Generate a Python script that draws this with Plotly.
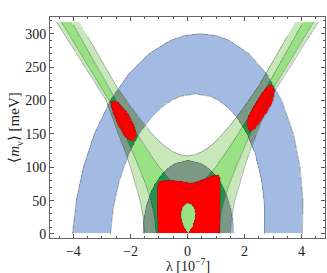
import numpy as np
import plotly.graph_objects as go

# ---------------- data ----------------
BLUE_OUT_Y = [0, 50, 100, 150, 200, 240, 270, 290, 297, 300]
BLUE_OUT_XL = [-4.03, -3.899, -3.65, -3.265, -2.704, -2.058, -1.351, -0.596, -0.122, 0.45]
BLUE_OUT_XR = [4.03, 4.049, 3.95, 3.715, 3.304, 2.778, 2.161, 1.466, 1.013, 0.45]
BLUE_IN_Y = [0, 40, 80, 120, 150, 175, 190, 200, 206, 210]
BLUE_IN_XL = [-2.70, -2.598, -2.389, -2.056, -1.690, -1.259, -0.897, -0.556, -0.250, 0.28]
BLUE_IN_XR = [2.70, 2.704, 2.603, 2.376, 2.090, 1.726, 1.403, 1.090, 0.799, 0.28]

CEN_Y = [0, 20, 40, 60, 75, 90, 100, 106, 110]
CEN_HALF_W = [1.59, 1.563, 1.481, 1.333, 1.163, 0.914, 0.662, 0.425, 0.0]
CEN_X0 = 0.03
HOLE_X = [0.03, 0.10, 0.20, 0.27, 0.29, 0.25, 0.15, 0.03, -0.09, -0.19, -0.23, -0.21, -0.14, -0.05]
HOLE_Y = [0, 5, 12, 22, 30, 38, 44, 46, 44, 38, 30, 22, 12, 5]

G_X = [0, 0.25, 0.5, 0.75, 1.0, 1.25, 1.5, 2.0, 2.5, 3.0, 3.5, 4.0, 4.5, 5.0]
LIGHT_UPPER_Y = [117.0, 118.5, 122.9, 130.0, 139.2, 150.3, 162.8, 191.0, 222.1, 259.0, 296.0, 333.0, 370.0, 407.0]
MED_UPPER_Y = [67.1, 69.7, 77.0, 87.8, 101.0, 115.8, 131.6, 165.2, 200.3, 237.0, 275.0, 313.0, 351.0, 389.0]
G_Y = [0, 25, 50, 75, 100, 125, 150, 200, 250, 300, 350]
LIGHT_OUTER_X = [1.50, 1.55, 1.66, 1.82, 2.00, 2.20, 2.43, 2.85, 3.58, 4.33, 5.08]
MED_OUTER_X = [1.10, 1.15, 1.28, 1.47, 1.70, 1.95, 2.20, 2.75, 3.45, 4.17, 4.88]
G_TOP = 318

RED_C_X = [-1.04, -1.06, -1.06, -1.02, -0.9, -0.5, -0.1, 0.15, 0.4, 0.7, 0.95, 1.08, 1.15, 1.16, 1.14, 1.13]
RED_C_Y = [0, 40, 70, 77, 79.5, 80, 78, 76, 79, 84, 88, 88, 84, 60, 20, 0]
RED_L_X = [-2.66, -2.43, -2.08, -1.84, -1.78, -1.9, -2.19, -2.43, -2.6, -2.68]
RED_L_Y = [199, 197.5, 180, 160, 147.5, 137.5, 145, 162.5, 180, 192]
RED_R_X = [2.95, 3.07, 3.01, 2.84, 2.6, 2.37, 2.19, 2.08, 2.13, 2.31, 2.6, 2.78]
RED_R_Y = [224, 215, 200, 185, 170, 157.5, 152.5, 162.5, 175, 190, 210, 220]

X_TICKS = [-4, -2, 0, 2, 4]
Y_TICKS = [0, 50, 100, 150, 200, 250, 300]

# ---------------- geometry helpers ----------------
def inside(px, py, X, Y):
    px = np.asarray(px, float); py = np.asarray(py, float)
    res = np.zeros(X.shape, bool)
    j = len(px) - 1
    with np.errstate(divide="ignore", invalid="ignore"):
        for i in range(len(px)):
            xi, yi, xj, yj = px[i], py[i], px[j], py[j]
            if yi != yj:
                c = ((yi > Y) != (yj > Y)) & (X < (xj - xi) * (Y - yi) / (yj - yi) + xi)
                res ^= c
            j = i
    return res

blue_px = BLUE_OUT_XL + BLUE_OUT_XR[::-1][1:] + BLUE_IN_XR + BLUE_IN_XL[::-1][1:]
blue_py = BLUE_OUT_Y + BLUE_OUT_Y[::-1][1:] + BLUE_IN_Y + BLUE_IN_Y[::-1][1:]
cen_px = [CEN_X0 - w for w in CEN_HALF_W] + [CEN_X0 + w for w in CEN_HALF_W[::-1][1:]]
cen_py = CEN_Y + CEN_Y[::-1][1:]

xr = [-4.82, 4.82]
yr = [-6, 325]
gx = np.linspace(xr[0], xr[1], 620)
gy = np.linspace(yr[0], yr[1], 500)
X, Y = np.meshgrid(gx, gy)
AX = np.abs(X)
valid = (Y >= 0)

blue = (inside(blue_px, blue_py, X, Y) | (inside(cen_px, cen_py, X, Y) & ~inside(HOLE_X, HOLE_Y, X, Y))) & valid
light = (Y <= np.interp(AX, G_X, LIGHT_UPPER_Y)) & (AX <= np.interp(Y, G_Y, LIGHT_OUTER_X)) & valid & (Y <= G_TOP)
med = (Y <= np.interp(AX, G_X, MED_UPPER_Y)) & (AX <= np.interp(Y, G_Y, MED_OUTER_X)) & valid & (Y <= G_TOP)
red = (inside(RED_C_X, RED_C_Y, X, Y) & ~inside(HOLE_X, HOLE_Y, X, Y)) | inside(RED_L_X, RED_L_Y, X, Y) | inside(RED_R_X, RED_R_Y, X, Y)
red &= valid

Z = np.zeros(X.shape)
Z[blue] = 1
Z[light & ~blue] = 2
Z[med & ~blue] = 3
Z[light & blue] = 4
Z[med & blue] = 5
Z[red] = 6

cols = ["#ffffff", "#a3bbe3", "#c9e8b9", "#99e284", "#7b9985", "#23924a", "#ff0000"]
cs = []
for k, c in enumerate(cols):
    cs.append([k / 7, c]); cs.append([(k + 1) / 7, c])

fig = go.Figure()
fig.add_trace(go.Heatmap(x=gx, y=gy, z=Z, zmin=-0.5, zmax=6.5, colorscale=cs, showscale=False,
                         hoverinfo="skip", zsmooth=False))

LINE = dict(color="rgba(45,55,65,0.6)", width=0.6)
def outline(xs, ys, closed=True):
    xs = list(xs); ys = list(ys)
    if closed:
        xs = xs + xs[:1]; ys = ys + ys[:1]
    fig.add_trace(go.Scatter(x=xs, y=ys, mode="lines", line=LINE, hoverinfo="skip", showlegend=False))

outline(BLUE_OUT_XL + BLUE_OUT_XR[::-1][1:], BLUE_OUT_Y + BLUE_OUT_Y[::-1][1:], closed=False)
outline(BLUE_IN_XL + BLUE_IN_XR[::-1][1:], BLUE_IN_Y + BLUE_IN_Y[::-1][1:], closed=False)
outline(cen_px, cen_py, closed=False)
outline(HOLE_X, HOLE_Y)
outline(RED_C_X, RED_C_Y, closed=False)
outline(RED_L_X, RED_L_Y)
outline(RED_R_X, RED_R_Y)

for upper in (LIGHT_UPPER_Y, MED_UPPER_Y):
    xs = [-v for v in G_X[::-1]] + G_X[1:]
    ys = upper[::-1] + upper[1:]
    xs2 = [x if y <= G_TOP else None for x, y in zip(xs, ys)]
    ys2 = [y if y <= G_TOP else None for y in ys]
    outline(xs2, ys2, closed=False)
for outer in (LIGHT_OUTER_X, MED_OUTER_X):
    yy = [y for y in G_Y if y <= G_TOP] + [G_TOP]
    xx = list(np.interp(yy, G_Y, outer))
    outline([-v for v in xx], yy, closed=False)
    outline(xx, yy, closed=False)

FONT = dict(family="Liberation Serif, Times New Roman, serif", size=14, color="#222")
fig.update_layout(
    width=327, height=273, margin=dict(l=50, r=2, t=17, b=35),
    plot_bgcolor="white", paper_bgcolor="white",
    font=FONT, showlegend=False,
)
fig.add_annotation(text="\u03bb [10<sup>\u22127</sup>]", xref="paper", yref="paper", x=0.5, y=-0.072,
                   xanchor="center", yanchor="top", showarrow=False,
                   font=dict(family=FONT["family"], size=14, color="#222"))
fig.update_xaxes(range=xr, tickvals=X_TICKS, ticktext=["\u22124", "\u22122", "0", "2", "4"],
                 ticks="inside", ticklen=4, tickcolor="#555", showline=True, linecolor="#666", linewidth=1,
                 mirror="allticks", showgrid=False, zeroline=False,
                 minor=dict(dtick=0.5, tick0=0, ticks="inside", ticklen=2, tickcolor="#555"))
fig.update_yaxes(range=yr, tickvals=Y_TICKS, ticks="inside", ticklen=4, tickcolor="#555",
                 showline=True, linecolor="#666", linewidth=1, mirror="allticks", showgrid=False, zeroline=False,
                 minor=dict(dtick=10, tick0=0, ticks="inside", ticklen=2, tickcolor="#555"),
                 title=dict(text="\u27e8<i>m</i><sub>\u03bd</sub>\u27e9 [meV]", standoff=1,
                            font=dict(family=FONT["family"], size=15, color="#222")))
fig.write_html("out.html", config={"displayModeBar": False},
               post_script="document.body.style.margin='0';document.body.style.overflow='hidden';")
